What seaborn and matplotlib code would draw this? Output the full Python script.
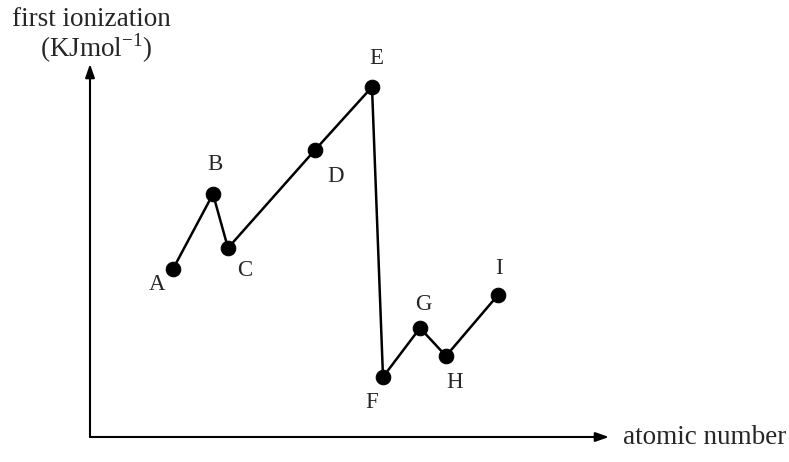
import matplotlib
matplotlib.use("Agg")
import matplotlib.pyplot as plt
import seaborn as sns
import pandas as pd

# element labels and read-off positions (schematic units)
elements = ["A", "B", "C", "D", "E", "F", "G", "H", "I"]
atomic_pos = [173, 213, 228, 315, 372, 383, 420, 446, 498]
ionization = [193, 268, 214, 312, 375, 85, 134, 106, 167]
# label offsets from each point
label_dx = [-16, 2, 17, 21, 4, -11, 3, 9, 1]
label_dy = [-15, 29, -22, -27, 29, -25, 24, -27, 26]

sns.set_style("white")
plt.rcParams["font.family"] = ["Liberation Serif", "DejaVu Serif"]

df = pd.DataFrame({"x": atomic_pos, "y": ionization, "el": elements})

fig = plt.figure(figsize=(7.89, 4.62), dpi=100)
ax = fig.add_axes([0, 0, 1, 1])
sns.lineplot(data=df, x="x", y="y", sort=False, color="black", linewidth=1.8,
             marker="o", markersize=10.5, markeredgecolor="black", ax=ax)

for x, y, t, dx, dy in zip(atomic_pos, ionization, elements, label_dx, label_dy):
    ax.text(x + dx, y + dy, t, ha="center", va="center", fontsize=16.5)

# axes drawn as arrows
arrow = dict(arrowstyle="-|>,head_length=0.8,head_width=0.28",
             color="black", lw=1.5, shrinkA=0, shrinkB=0)
ax.annotate("", xy=(90, 398), xytext=(90, 25), arrowprops=arrow)
ax.annotate("", xy=(609, 25), xytext=(90, 25), arrowprops=arrow)

ax.text(12, 443, "first ionization", ha="left", va="center", fontsize=19.5)
ax.text(40, 414, "(KJmol$^{\\mathregular{-1}}$)", ha="left", va="center", fontsize=19.5)
ax.text(786, 24, "atomic number", ha="right", va="center", fontsize=19.5)

ax.set_xlim(0, 789)
ax.set_ylim(0, 462)
ax.set_axis_off()

fig.savefig("out.png", dpi=100)
